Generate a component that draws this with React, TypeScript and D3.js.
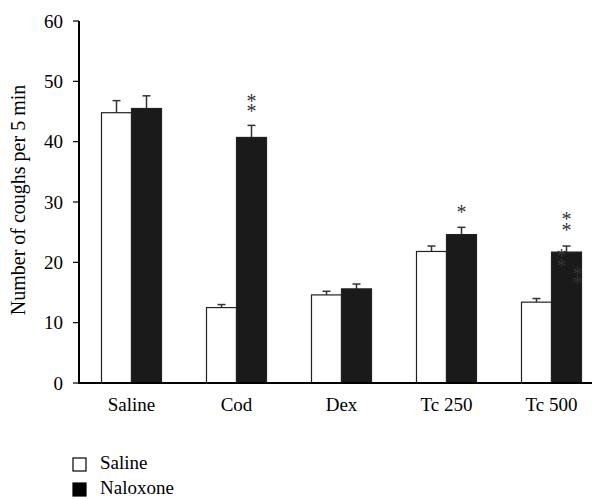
import React, { useEffect, useRef } from 'react'
import * as d3 from 'd3'

const categories = ['Saline', 'Cod', 'Dex', 'Tc 250', 'Tc 500']
const salineMeans = [44.8, 12.5, 14.6, 21.8, 13.4]
const salineErr = [2.0, 0.5, 0.6, 0.9, 0.6]
const naloxoneMeans = [45.5, 40.7, 15.6, 24.6, 21.7]
const naloxoneErr = [2.1, 2.0, 0.8, 1.2, 1.0]
const yTicks = [0, 10, 20, 30, 40, 50, 60]
const seriesNames = ['Saline', 'Naloxone']

// significance marks over the naloxone bars: group, centre height in data units, x shift in px
const marks = [
  { group: 'Cod', y: 47.2, dx: 0 },
  { group: 'Cod', y: 45.6, dx: 0 },
  { group: 'Tc 250', y: 28.8, dx: 0 },
  { group: 'Tc 500', y: 27.6, dx: 0 },
  { group: 'Tc 500', y: 25.9, dx: 0 },
  { group: 'Tc 500', y: 21.6, dx: -5 },
  { group: 'Tc 500', y: 19.9, dx: -5 },
  { group: 'Tc 500', y: 18.6, dx: 11 },
  { group: 'Tc 500', y: 17.1, dx: 11 },
]

const FONT = "'Liberation Serif', 'DejaVu Serif', serif"

export default function App() {
  const ref = useRef<SVGSVGElement>(null)

  useEffect(() => {
    const svg = d3.select(ref.current)
    svg.selectAll('*').remove()

    const x = d3.scaleBand().domain(categories).range([79, 604]).padding(0)
    const y = d3.scaleLinear().domain([0, 60]).range([383, 21])
    const barW = 30
    const center = (c: string) => (x(c) as number) + x.bandwidth() / 2

    // y axis
    svg.append('line')
      .attr('x1', 79).attr('x2', 79)
      .attr('y1', y(60)).attr('y2', y(0))
      .attr('stroke', '#000').attr('stroke-width', 2)
    const tick = svg.append('g').selectAll('g').data(yTicks).join('g')
      .attr('transform', d => `translate(0,${y(d)})`)
    tick.append('line').attr('x1', 73).attr('x2', 79).attr('stroke', '#000').attr('stroke-width', 1.2)
    tick.append('text')
      .attr('x', 63).attr('dy', '0.35em')
      .attr('text-anchor', 'end')
      .style('font-family', FONT).style('font-size', '19px')
      .text(d => d)

    svg.append('text')
      .attr('transform', `translate(25,${y(30) - 2}) rotate(-90)`)
      .attr('text-anchor', 'middle')
      .style('font-family', FONT).style('font-size', '20px')
      .text('Number of coughs per 5 min')

    // bars
    const drawSeries = (means: number[], errs: number[], offset: number, fill: string) => {
      const g = svg.append('g')
      categories.forEach((c, i) => {
        const x0 = center(c) + offset
        const cx = x0 + barW / 2
        g.append('line')
          .attr('x1', cx).attr('x2', cx)
          .attr('y1', y(means[i])).attr('y2', y(means[i] + errs[i]))
          .attr('stroke', '#333').attr('stroke-width', 1.5)
        g.append('line')
          .attr('x1', cx - 4).attr('x2', cx + 4)
          .attr('y1', y(means[i] + errs[i])).attr('y2', y(means[i] + errs[i]))
          .attr('stroke', '#333').attr('stroke-width', 1.5)
        g.append('rect')
          .attr('x', x0).attr('y', y(means[i]))
          .attr('width', barW).attr('height', y(0) - y(means[i]))
          .attr('fill', fill).attr('stroke', '#222').attr('stroke-width', 1.2)
      })
    }
    drawSeries(salineMeans, salineErr, -barW, '#fff')
    drawSeries(naloxoneMeans, naloxoneErr, 0, '#1a1a1a')

    // x axis
    svg.append('line')
      .attr('x1', 78).attr('x2', 592)
      .attr('y1', y(0)).attr('y2', y(0))
      .attr('stroke', '#000').attr('stroke-width', 2)
    svg.append('g').selectAll('text').data(categories).join('text')
      .attr('x', d => center(d)).attr('y', 411)
      .attr('text-anchor', 'middle')
      .style('font-family', FONT).style('font-size', '19px')
      .text(d => d)

    // asterisks
    svg.append('g').selectAll('text').data(marks).join('text')
      .attr('x', d => center(d.group) + barW / 2 + d.dx)
      .attr('y', d => y(d.y))
      .attr('dy', '0.5em')
      .attr('text-anchor', 'middle')
      .style('font-family', FONT).style('font-size', '20px')
      .attr('fill', '#333')
      .text('*')

    // legend
    const leg = svg.append('g').selectAll('g').data(seriesNames).join('g')
      .attr('transform', (_, i) => `translate(73,${458 + i * 25})`)
    leg.append('rect')
      .attr('width', 13).attr('height', 13)
      .attr('fill', (_, i) => (i === 0 ? '#fff' : '#000'))
      .attr('stroke', '#000').attr('stroke-width', 1.2)
    leg.append('text')
      .attr('x', 27).attr('y', 11)
      .style('font-family', FONT).style('font-size', '19px')
      .text(d => d)
  }, [])

  return (
    <svg ref={ref} width={592} height={499}
      style={{ position: 'absolute', top: 0, left: 0, background: '#fff' }} />
  )
}
